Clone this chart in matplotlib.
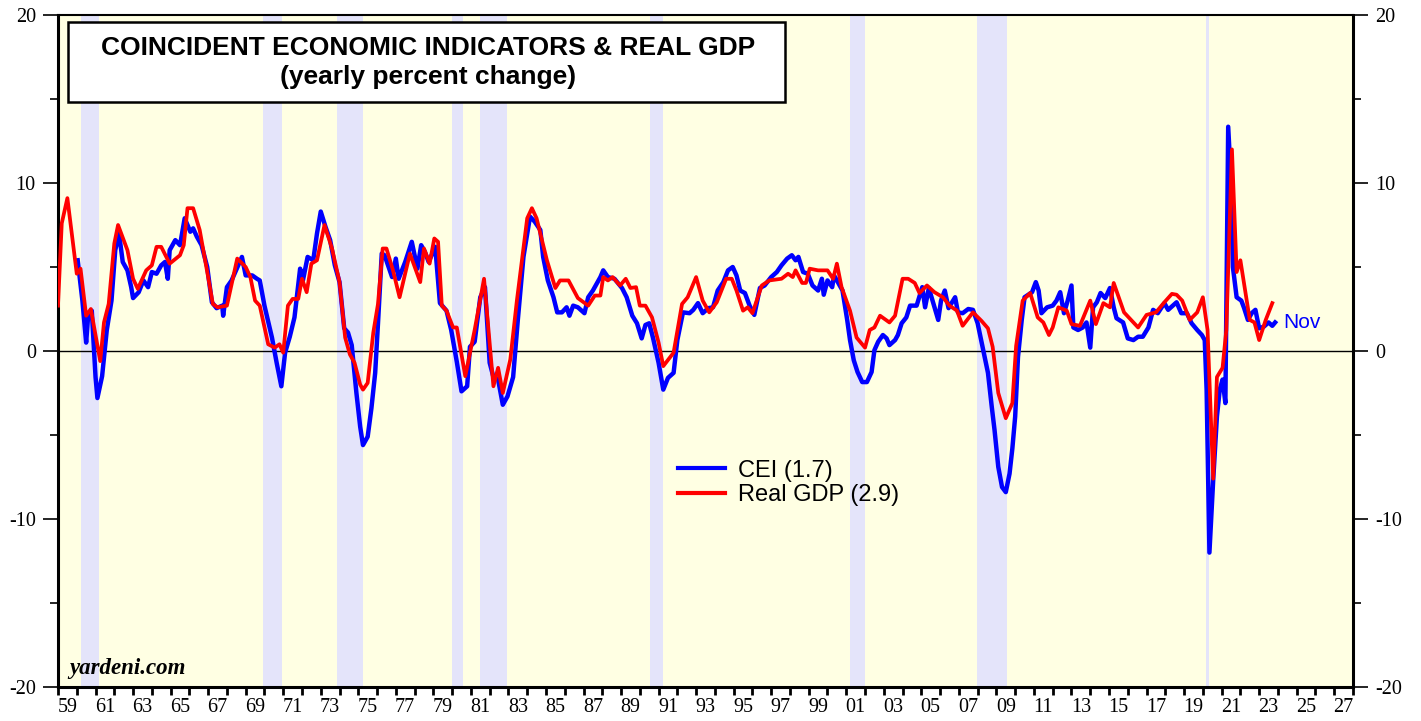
import numpy as np
import matplotlib
matplotlib.use("Agg")
import matplotlib.pyplot as plt
from matplotlib.patches import Rectangle
from matplotlib.ticker import MultipleLocator, FixedLocator, FixedFormatter, NullFormatter

plt.rcParams["axes.unicode_minus"] = False

# CEI, yearly % change (monthly readings)
cei_x = [1960.05, 1960.3, 1960.5, 1960.6, 1960.8, 1961.0, 1961.1, 1961.35, 1961.6, 1961.85,
         1962.05, 1962.25, 1962.45, 1962.7, 1962.9, 1963.0, 1963.3, 1963.55, 1963.8, 1964.0,
         1964.25, 1964.5, 1964.7, 1964.85, 1964.95, 1965.25, 1965.5, 1965.75, 1966.05, 1966.2,
         1966.4, 1966.65, 1966.95, 1967.2, 1967.45, 1967.75, 1967.8, 1968.0, 1968.25, 1968.6,
         1968.8, 1969.0, 1969.35, 1969.6, 1969.75, 1970.0, 1970.4, 1970.65, 1970.9, 1971.1,
         1971.35, 1971.6, 1971.9, 1972.05, 1972.3, 1972.6, 1972.8, 1973.0, 1973.25, 1973.5,
         1973.75, 1974.0, 1974.25, 1974.45, 1974.65, 1974.9, 1975.1, 1975.25, 1975.5, 1975.7,
         1975.9, 1976.05, 1976.25, 1976.4, 1976.8, 1977.0, 1977.15, 1977.5, 1977.85, 1978.15,
         1978.35, 1978.55, 1978.75, 1979.1, 1979.35, 1979.7, 1979.95, 1980.25, 1980.5, 1980.8,
         1980.95, 1981.2, 1981.5, 1981.75, 1982.0, 1982.2, 1982.45, 1982.7, 1982.95, 1983.25,
         1983.5, 1983.8, 1984.15, 1984.4, 1984.7, 1984.85, 1985.1, 1985.4, 1985.6, 1985.85,
         1986.1, 1986.25, 1986.45, 1986.7, 1987.05, 1987.25, 1987.5, 1987.9, 1988.05, 1988.3,
         1988.65, 1989.05, 1989.3, 1989.6, 1989.85, 1990.1, 1990.3, 1990.5, 1990.7, 1991.0,
         1991.25, 1991.5, 1991.8, 1992.0, 1992.3, 1992.65, 1992.85, 1993.1, 1993.35, 1993.65,
         1993.9, 1994.15, 1994.45, 1994.7, 1994.95, 1995.15, 1995.35, 1995.6, 1995.85, 1996.1,
         1996.4, 1996.65, 1997.0, 1997.3, 1997.55, 1997.85, 1998.1, 1998.3, 1998.45, 1998.7,
         1998.95, 1999.2, 1999.5, 1999.7, 1999.8, 2000.0, 2000.25, 2000.35, 2000.55, 2000.8,
         2001.05, 2001.2, 2001.4, 2001.6, 2001.85, 2002.1, 2002.35, 2002.5, 2002.7, 2002.95,
         2003.15, 2003.3, 2003.6, 2003.75, 2003.95, 2004.2, 2004.4, 2004.75, 2005.05, 2005.2,
         2005.4, 2005.7, 2005.9, 2006.05, 2006.25, 2006.45, 2006.8, 2006.95, 2007.2, 2007.5,
         2007.75, 2008.0, 2008.3, 2008.55, 2008.75, 2008.9, 2009.1, 2009.3, 2009.5, 2009.7,
         2009.85, 2010.0, 2010.15, 2010.35, 2010.5, 2010.9, 2011.1, 2011.25, 2011.4, 2011.7,
         2012.0, 2012.2, 2012.4, 2012.6, 2012.8, 2013.0, 2013.1, 2013.35, 2013.6, 2013.8,
         2014.0, 2014.15, 2014.35, 2014.55, 2014.8, 2015.05, 2015.25, 2015.4, 2015.75, 2016.0,
         2016.3, 2016.55, 2016.8, 2017.1, 2017.35, 2017.6, 2017.95, 2018.15, 2018.4, 2018.6,
         2018.85, 2019.15, 2019.4, 2019.7, 2019.95, 2020.1, 2020.2, 2020.35, 2020.55, 2020.75,
         2020.9, 2021.05, 2021.2, 2021.35, 2021.55, 2021.6, 2021.8, 2022.05, 2022.2, 2022.4,
         2022.6, 2022.8, 2023.0, 2023.25, 2023.5, 2023.7, 2023.85]
cei_y = [5.4, 3.0, 0.5, 2.0, 2.4, -1.55, -2.8, -1.5, 1.25, 3.0,
         6.0, 7.0, 5.3, 4.8, 3.8, 3.15, 3.5, 4.2, 3.8, 4.7,
         4.6, 5.1, 5.3, 4.3, 6.0, 6.6, 6.3, 7.9, 7.1, 7.3,
         6.8, 6.3, 5.0, 2.9, 2.55, 2.7, 2.1, 3.8, 4.2, 5.1,
         5.6, 4.5, 4.5, 4.3, 4.2, 2.7, 0.8, -0.7, -2.1, -0.1,
         0.85, 2.0, 4.9, 4.2, 5.6, 5.4, 7.0, 8.3, 7.4, 6.6,
         5.1, 4.1, 1.35, 1.1, 0.35, -2.5, -4.5, -5.6, -5.1, -3.4,
         -1.3, 1.65, 5.8, 5.7, 4.4, 5.5, 4.3, 5.3, 6.5, 4.9,
         6.3, 5.9, 5.3, 6.2, 2.85, 2.4, 1.25, -0.65, -2.4, -2.1,
         0.25, 0.55, 3.2, 3.8, -0.7, -1.55, -1.7, -3.2, -2.7, -1.55,
         1.85, 5.6, 8.0, 7.7, 7.2, 5.6, 4.2, 3.2, 2.3, 2.3,
         2.6, 2.1, 2.7, 2.6, 2.25, 3.2, 3.6, 4.4, 4.8, 4.4,
         4.3, 3.75, 3.2, 2.1, 1.65, 0.75, 1.55, 1.65, 0.8, -0.7,
         -2.3, -1.6, -1.3, 0.65, 2.3, 2.25, 2.45, 2.85, 2.25, 2.55,
         2.6, 3.6, 4.1, 4.8, 5.0, 4.5, 3.6, 3.45, 2.7, 2.15,
         3.75, 3.9, 4.4, 4.7, 5.1, 5.5, 5.7, 5.4, 5.6, 4.7,
         4.6, 3.9, 3.6, 4.3, 3.35, 4.2, 3.8, 4.5, 4.1, 3.6,
         1.85, 0.65, -0.55, -1.25, -1.85, -1.85, -1.25, 0.05, 0.55, 0.95,
         0.75, 0.35, 0.65, 0.95, 1.65, 2.0, 2.7, 2.7, 3.8, 2.6,
         3.75, 2.6, 1.85, 3.0, 3.6, 2.55, 3.2, 2.3, 2.25, 2.5,
         2.45, 1.65, 0.05, -1.3, -3.3, -4.7, -6.9, -8.1, -8.4, -7.3,
         -5.8, -3.9, -0.35, 1.85, 3.2, 3.5, 4.1, 3.6, 2.25, 2.6,
         2.7, 3.0, 3.5, 2.25, 3.0, 3.9, 1.4, 1.25, 1.4, 1.7,
         0.2, 2.6, 2.9, 3.45, 3.15, 3.75, 2.6, 1.95, 1.7, 0.75,
         0.65, 0.85, 0.85, 1.4, 2.45, 2.25, 2.85, 2.45, 2.7, 2.9,
         2.25, 2.25, 1.65, 1.25, 0.95, 0.65, -2.3, -12.0, -7.7, -3.9,
         -2.3, -1.7, -3.1, 13.35, 9.0, 5.0, 3.2, 3.0, 2.55, 1.85,
         2.25, 2.45, 1.35, 1.45, 1.7, 1.5, 1.7]

# Real GDP, yearly % change (quarterly readings)
gdp_x = [1959.0, 1959.2, 1959.5, 1960.0, 1960.2, 1960.5, 1960.75, 1961.25, 1961.45, 1961.7,
         1962.0, 1962.2, 1962.7, 1963.0, 1963.25, 1963.7, 1964.0, 1964.25, 1964.5, 1964.95,
         1965.5, 1965.7, 1965.9, 1966.2, 1966.55, 1967.0, 1967.25, 1967.5, 1968.0, 1968.55,
         1969.0, 1969.25, 1969.5, 1969.75, 1970.2, 1970.55, 1970.8, 1971.0, 1971.25, 1971.5,
         1971.8, 1972.0, 1972.25, 1972.5, 1972.8, 1973.2, 1973.6, 1974.0, 1974.3, 1974.55,
         1974.8, 1975.1, 1975.25, 1975.5, 1975.8, 1976.05, 1976.3, 1976.5, 1976.85, 1977.2,
         1977.75, 1978.3, 1978.5, 1978.8, 1979.05, 1979.25, 1979.45, 1979.7, 1980.05, 1980.25,
         1980.7, 1981.2, 1981.7, 1982.2, 1982.45, 1982.7, 1983.1, 1983.45, 1984.0, 1984.25,
         1984.5, 1985.05, 1985.5, 1985.75, 1986.2, 1986.7, 1987.25, 1987.6, 1987.9, 1988.05,
         1988.3, 1988.55, 1988.95, 1989.25, 1989.5, 1989.8, 1990.0, 1990.3, 1990.65, 1991.0,
         1991.25, 1991.8, 1992.25, 1992.55, 1993.0, 1993.35, 1993.7, 1994.1, 1994.6, 1994.9,
         1995.15, 1995.5, 1995.75, 1996.0, 1996.5, 1996.9, 1997.55, 1997.9, 1998.15, 1998.3,
         1998.65, 1998.85, 1999.05, 1999.5, 2000.0, 2000.3, 2000.5, 2000.75, 2001.2, 2001.55,
         2002.0, 2002.25, 2002.5, 2002.8, 2003.3, 2003.6, 2004.0, 2004.3, 2004.65, 2004.9,
         2005.3, 2005.7, 2006.15, 2006.5, 2006.9, 2007.2, 2007.75, 2008.2, 2008.55, 2008.8,
         2009.1, 2009.5, 2009.85, 2010.05, 2010.4, 2010.8, 2011.2, 2011.5, 2011.8, 2012.0,
         2012.3, 2012.75, 2013.0, 2013.45, 2014.0, 2014.3, 2014.7, 2015.05, 2015.25, 2015.8,
         2016.55, 2017.0, 2017.5, 2017.95, 2018.35, 2018.6, 2018.9, 2019.3, 2019.7, 2020.0,
         2020.25, 2020.55, 2020.75, 2021.05, 2021.25, 2021.55, 2021.8, 2022.0, 2022.5, 2022.75,
         2023.0, 2023.35, 2023.7]
gdp_y = [2.7, 7.6, 9.1, 4.6, 4.9, 2.1, 2.5, -0.6, 1.7, 2.8,
         6.4, 7.5, 6.0, 4.3, 3.7, 4.8, 5.1, 6.2, 6.2, 5.2,
         5.7, 6.3, 8.5, 8.5, 7.2, 4.4, 2.8, 2.6, 2.7, 5.5,
         5.0, 4.4, 3.0, 2.7, 0.4, 0.2, 0.4, -0.1, 2.7, 3.1,
         3.1, 4.3, 3.5, 5.2, 5.4, 7.5, 6.1, 4.1, 0.8, -0.2,
         -0.7, -2.0, -2.3, -1.9, 1.1, 2.8, 6.1, 6.1, 4.8, 3.2,
         5.8, 4.1, 6.1, 5.2, 6.7, 6.5, 2.7, 2.4, 1.4, 1.4,
         -1.5, 1.25, 4.3, -2.1, -1.0, -2.5, -0.5, 3.0, 7.9, 8.5,
         7.9, 5.4, 3.75, 4.2, 4.2, 3.15, 2.7, 3.3, 3.3, 4.4,
         4.2, 4.4, 3.9, 4.3, 3.75, 3.8, 2.7, 2.7, 2.0, 0.5,
         -0.9, -0.1, 2.8, 3.2, 4.4, 3.0, 2.3, 2.9, 4.3, 4.3,
         3.6, 2.4, 2.6, 2.25, 3.9, 4.2, 4.3, 4.6, 4.4, 4.8,
         4.05, 4.05, 4.9, 4.8, 4.8, 4.3, 5.2, 3.8, 2.4, 0.8,
         0.2, 1.25, 1.4, 2.1, 1.7, 2.1, 4.3, 4.3, 4.05, 3.45,
         3.9, 3.5, 3.2, 2.7, 2.4, 1.5, 2.3, 1.8, 1.35, 0.25,
         -2.5, -4.0, -3.1, 0.3, 3.0, 3.45, 2.0, 1.7, 0.95, 1.4,
         2.6, 2.4, 1.6, 1.5, 3.0, 1.6, 2.85, 2.6, 4.05, 2.3,
         1.4, 2.15, 2.3, 2.9, 3.4, 3.35, 3.0, 1.85, 2.3, 3.2,
         1.25, -7.6, -1.55, -1.0, 1.25, 12.0, 4.7, 5.4, 1.85, 1.7,
         0.65, 1.85, 2.85]

# recessions (start, end)
rec_start = [1960.25, 1969.9, 1973.85, 1980.0, 1981.5, 1990.55, 2001.2, 2007.95, 2020.15]
rec_end = [1961.2, 1970.95, 1975.25, 1980.6, 1982.9, 1991.25, 2002.0, 2009.55, 2020.35]

year_labels = ["%02d" % (y % 100) for y in range(1959, 2028, 2)]

fig = plt.figure(figsize=(14.21, 7.21), dpi=100)
ax = fig.add_axes([58 / 1421, 34 / 721, 1295 / 1421, 672 / 721])
ax.set_facecolor("#FFFFE3")

for s, e in zip(rec_start, rec_end):
    ax.axvspan(s, e, color="#E4E4FA", lw=0, zorder=1)

ax.axhline(0, color="black", lw=1.0, zorder=2)
ax.plot(cei_x, cei_y, color="#0000FF", lw=3.2, zorder=3, label="CEI (1.7)")
ax.plot(gdp_x, gdp_y, color="#FF0000", lw=2.7, zorder=4, label="Real GDP (2.9)")

ax.set_xlim(1959, 2028)
ax.set_ylim(-20, 20)

# x axis: tick every year, labels centred in odd years
ax.xaxis.set_major_locator(MultipleLocator(1))
ax.xaxis.set_major_formatter(NullFormatter())
ax.xaxis.set_minor_locator(FixedLocator([y + 0.5 for y in range(1959, 2028, 2)]))
ax.xaxis.set_minor_formatter(FixedFormatter(year_labels))
ax.tick_params(axis="x", which="major", direction="out", length=6, width=2)
ax.tick_params(axis="x", which="minor", length=0, pad=8, labelsize=14.5)

ax.yaxis.set_major_locator(MultipleLocator(10))
ax.yaxis.set_minor_locator(MultipleLocator(5))
ax.tick_params(axis="y", which="major", direction="out", length=11, width=1.2,
               left=True, right=True, labelleft=True, labelright=True, labelsize=14.5, pad=5)
ax.tick_params(axis="y", which="minor", direction="out", length=6, width=1.2,
               left=True, right=True)

for lab in ax.get_xticklabels(minor=True) + ax.get_yticklabels():
    lab.set_fontfamily("Liberation Serif")

for sp in ax.spines.values():
    sp.set_linewidth(2.2)
ax.spines["top"].set_linewidth(1.5)

# title box
ax.add_patch(Rectangle((0.0077, 0.870), 0.554, 0.120, transform=ax.transAxes,
                       facecolor="white", edgecolor="black", lw=1.8, zorder=5))
ax.text(0.286, 0.951, "COINCIDENT ECONOMIC INDICATORS & REAL GDP", transform=ax.transAxes,
        ha="center", va="center", fontsize=19, fontweight="bold",
        fontfamily="Liberation Sans", zorder=6)
ax.text(0.286, 0.907, "(yearly percent change)", transform=ax.transAxes,
        ha="center", va="center", fontsize=19, fontweight="bold",
        fontfamily="Liberation Sans", zorder=6)

ax.text(0.009, 0.012, "yardeni.com", transform=ax.transAxes, ha="left", va="bottom",
        fontsize=16.5, fontweight="bold", fontstyle="italic",
        fontfamily="Liberation Serif", zorder=6)

ax.text(2024.3, 1.7, "Nov", color="#0000FF", fontsize=15, va="center", ha="left",
        fontfamily="Liberation Sans", zorder=6)

leg = ax.legend(loc="upper left", bbox_to_anchor=(0.462, 0.37), frameon=False,
                prop={"family": "Liberation Sans", "size": 17}, handlelength=2.0,
                handletextpad=0.55, labelspacing=0.12)
for h in leg.get_lines():
    h.set_linewidth(3)

fig.savefig("out.png", dpi=100)
